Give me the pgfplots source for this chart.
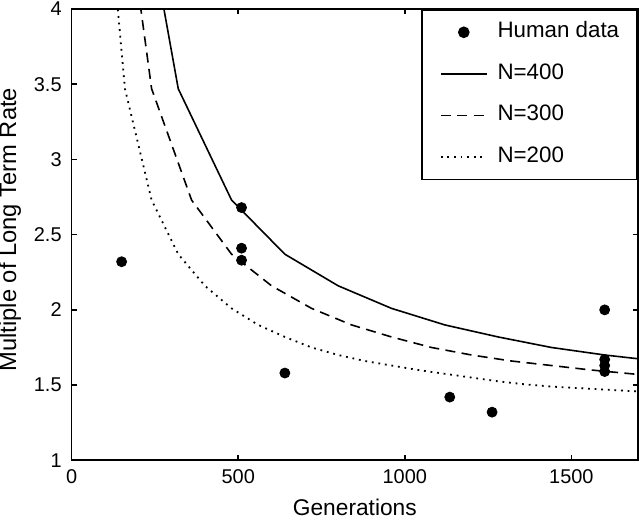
\documentclass[border=0pt]{standalone}
\usepackage{fontspec}
\setmainfont{Liberation Sans}
\usepackage{pgfplots}
\pgfplotsset{compat=1.18}
\pgfplotsset{
  mylineleg/.style={legend image code/.code={\draw[##1] (0bp,0bp) -- (23bp,0bp);}},
  mymarkleg/.style={legend image code/.code={\draw[##1] plot coordinates {(11.5bp,0bp)};}},
}
\begin{document}
\begin{tikzpicture}
\begin{axis}[
  scale only axis,
  width=283bp, height=225.5bp,
  xmin=0, xmax=1700, ymin=1, ymax=4,
  xtick={0,500,1000,1500},
  ytick={1,1.5,2,2.5,3,3.5,4},
  yticklabels={1,1.5,2,2.5,3,3.5,4},
  /pgf/number format/1000 sep={},
  tick align=inside, tick pos=both,
  major tick length=2.5bp,
  axis line style={line width=0.8bp},
  every tick/.style={line width=0.8bp, black},
  /pgf/number format/assume math mode=true,
  tick label style={font=\fontsize{10}{12}\selectfont},
  xticklabel style={yshift=-1bp},
  yticklabel style={xshift=-1.5bp},
  xlabel={Generations},
  ylabel={Multiple of Long Term Rate},
  xlabel style={font=\fontsize{11.4}{13}\selectfont, at={(axis description cs:0.5,-0.122)}, anchor=base},
  ylabel style={font=\fontsize{11.9}{13}\selectfont, at={(axis description cs:-0.109,0.511)}, anchor=center},
  legend style={at={(1,1)}, anchor=north east, draw=black, line width=0.8bp,
    font=\fontsize{11.2}{13}\selectfont, inner xsep=9bp, inner ysep=6bp,
    row sep=10.3bp, column sep=4.9bp,
    nodes={inner sep=0pt, text height=8pt, text depth=2.5pt}},
  legend cell align=left,
]
\addplot[only marks, mark=*, mark size=2.5bp, black, mymarkleg]
  coordinates {(150,2.32) (510,2.68) (510,2.41) (510,2.33) (640,1.58)
    (1135,1.42) (1262,1.32) (1600,2.00) (1600,1.67) (1600,1.63) (1600,1.59)};
\addlegendentry{Human data}
\addplot[black, line width=0.8bp, mark=none, mylineleg]
  coordinates {(160,5.44) (320,3.47) (480,2.73) (640,2.37) (800,2.16)
    (960,2.01) (1120,1.90) (1280,1.82) (1440,1.75) (1600,1.70) (1760,1.66)};
\addlegendentry{N=400}
\addplot[black, line width=0.8bp, mark=none, dash pattern=on 5bp off 3.2bp, mylineleg]
  coordinates {(120,5.44) (240,3.47) (360,2.73) (480,2.37) (600,2.16)
    (720,2.01) (840,1.90) (960,1.82) (1080,1.75) (1200,1.70) (1320,1.66)
    (1440,1.63) (1560,1.60) (1680,1.575) (1800,1.55)};
\addlegendentry{N=300}
\addplot[black, line width=0.9bp, mark=none, dash pattern=on 0.9bp off 2.4bp, mylineleg]
  coordinates {(80,5.44) (160,3.47) (240,2.73) (320,2.37) (400,2.16)
    (480,2.01) (560,1.90) (640,1.82) (720,1.75) (800,1.70) (880,1.66)
    (960,1.63) (1040,1.60) (1120,1.575) (1200,1.55) (1280,1.525)
    (1360,1.505) (1440,1.49) (1520,1.48) (1600,1.47) (1680,1.46) (1760,1.45)};
\addlegendentry{N=200}
\end{axis}
\pgfresetboundingbox
\path[use as bounding box] ([xshift=-35.8bp,yshift=-29bp]current axis.south west) rectangle ([xshift=1bp,yshift=4.5bp]current axis.north east);
\end{tikzpicture}
\end{document}
